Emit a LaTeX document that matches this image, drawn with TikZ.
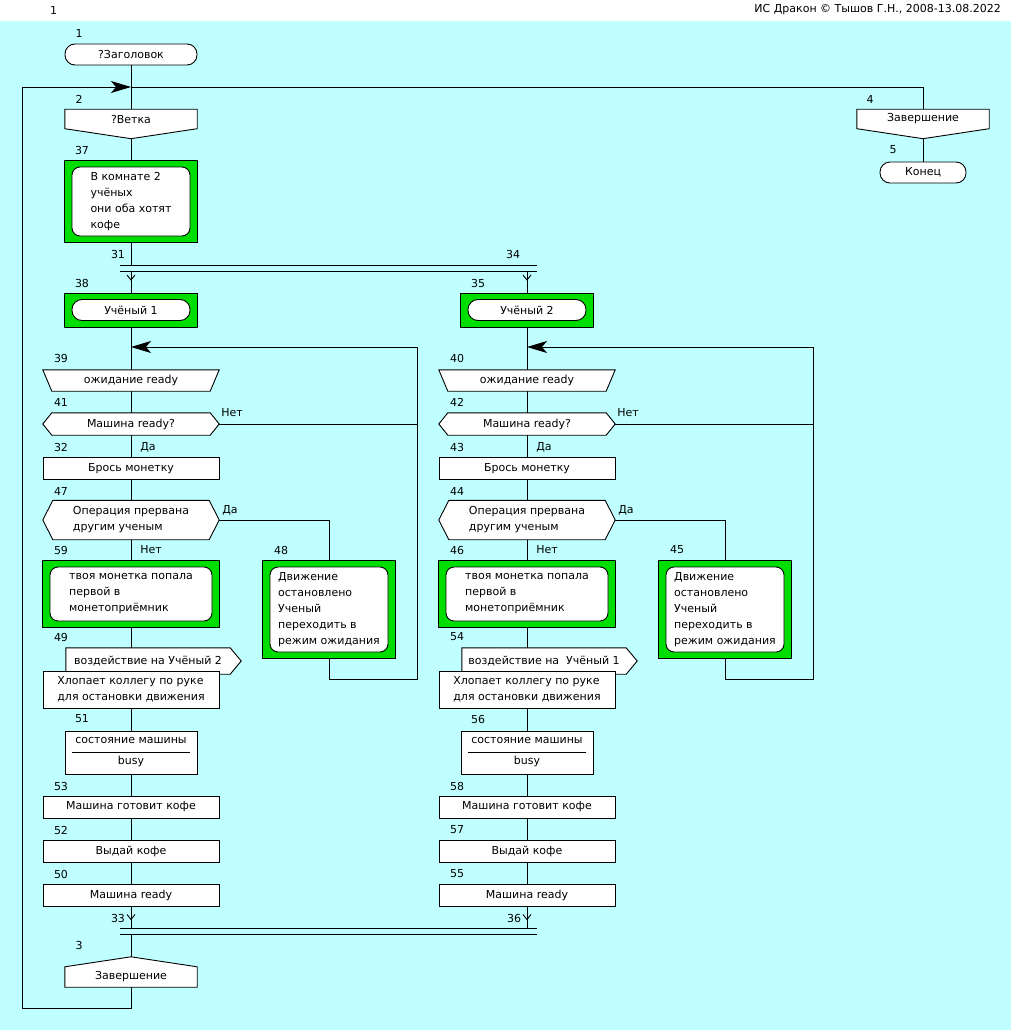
\documentclass[tikz,border=0pt]{standalone}
\usepackage{fontspec}
\setmainfont{DejaVu Sans}
\usepackage{tikz}
\usetikzlibrary{arrows.meta,positioning}
\definecolor{drakonbg}{RGB}{192,255,255}
\definecolor{drakongreen}{RGB}{0,221,0}
\newcommand{\drakonfont}{\fontsize{11pt}{16pt}\selectfont}
\pgfdeclarelayer{bg}
\pgfdeclarelayer{lines}
\pgfdeclarelayer{icons}
\pgfsetlayers{bg,lines,icons,main}
\tikzset{
    num/.style={inner sep=0pt},
    flow/.style={draw=black, line width=0.9pt},
    loopback/.style={flow, -{Stealth[length=20pt, width=12pt, inset=5pt]}},
    action/.style={
                draw=black,
                fill=white,
                line width=0.9pt,
                minimum width=176pt,
                minimum height=22pt,
                inner sep=0pt,
                align=center
            },
    term/.style={
                action,
                rounded corners=10pt,
                minimum width=132pt,
                minimum height=21pt
            },
    textbox/.style={
                action,
                rounded corners=8pt,
                align=left
            },
    shapetext/.style={
                inner sep=0pt,
                align=center
            },
    outline/.style={draw=black, fill=white, line width=0.9pt},
    greenbox/.style={draw=black, fill=drakongreen, line width=0.9pt},
}
\begin{document}
\begin{tikzpicture}[x=1pt, y=-1pt, every node/.append style={font=\drakonfont}]
  \useasboundingbox (0,0) rectangle (1011,1030);
  % Background
  \begin{pgfonlayer}{bg}
    \fill[white] (0,0) rectangle (1011,21);
    \fill[drakonbg] (0,21) rectangle (1011,1030);
  \end{pgfonlayer}
  \node[num, anchor=west] (page) at (50,10) {1};
  \node[num, anchor=east] (title) at (1001,10) {ИС Дракон © Тышов Г.Н., 2008-13.08.2022};

  % Title and branch
  \node[term] (t1) at (131,54.5) {?Заголовок};
  \node[shapetext, minimum width=132pt, minimum height=19pt] (b2) at (131,119) {?Ветка};
  \node[textbox, minimum width=118pt, minimum height=69pt] (g37) at (131,201.5) {В комнате 2\\учёных\\они оба хотят\\кофе};
  \node[num] (id1) at (79,33) {1};
  \node[num] (id2) at (79,99) {2};
  \node[num] (id37) at (82,150) {37};

  % Fork
  \coordinate (fork1w) at (120,265);
  \coordinate (fork1e) at (537,265);
  \coordinate (fork2w) at (120,271);
  \coordinate (fork2e) at (537,271);
  \node[num] (id31) at (118,254) {31};
  \node[num] (id34) at (513,254) {34};

  % Column: Учёный 1
  \node[term, minimum width=118pt] (s38) at (131,310) {Учёный 1};
  \node[shapetext, minimum width=176pt, minimum height=21pt] (i39) at (131,380.5) {ожидание ready};
  \node[shapetext, minimum width=158pt, minimum height=22pt] (c41) at (131,424) {Машина ready?};
  \node[action] (a32) at (131,468.5) {Брось монетку};
  \node[shapetext, minimum width=156pt, minimum height=39pt, align=left] (c47) at (131,520) {Операция прервана\\другим ученым};
  \node[textbox, minimum width=162pt, minimum height=54pt] (g59) at (131,594) {твоя монетка попала\\первой в\\монетоприёмник};
  \node[textbox, minimum width=118pt, minimum height=85pt] (g48) at (329,609.5) {Движение\\остановлено\\Ученый\\переходить в\\режим ожидания};
  \node[shapetext, minimum width=164pt, minimum height=26pt] (o49) at (148,661) {воздействие на Учёный 2};
  \node[action, minimum height=37pt, align=left] (a49) at (131,689.5) {Хлопает коллегу по руке\\для остановки движения};
  \node[action, minimum width=132pt, minimum height=43pt] (s51) at (131,752.5) {состояние машины\\[5pt]busy};
  \draw[flow] ([xshift=7pt]s51.west) -- ([xshift=-7pt]s51.east);
  \node[action] (a53) at (131,807) {Машина готовит кофе};
  \node[action] (a52) at (131,851) {Выдай кофе};
  \node[action] (a50) at (131,895) {Машина ready};
  \node[num] (id38) at (82,283) {38};
  \node[num] (id39) at (61,358) {39};
  \node[num] (id41) at (61,402) {41};
  \node[num] (no41) at (232,413) {Нет};
  \node[num] (id32) at (61,447) {32};
  \node[num] (yes41) at (148,447) {Да};
  \node[num] (id47) at (61,491) {47};
  \node[num] (yes47) at (230,510) {Да};
  \node[num] (id59) at (61,550) {59};
  \node[num] (no47) at (151,550) {Нет};
  \node[num] (id48) at (281,550) {48};
  \node[num] (id49) at (61,637) {49};
  \node[num] (id51) at (82,719) {51};
  \node[num] (id53) at (61,786) {53};
  \node[num] (id52) at (61,830) {52};
  \node[num] (id50) at (61,874) {50};
  \node[num] (id33) at (118,918) {33};

  % Column: Учёный 2
  \node[term, minimum width=118pt] (s35) at (527,310) {Учёный 2};
  \node[shapetext, minimum width=176pt, minimum height=21pt] (i40) at (527,380.5) {ожидание ready};
  \node[shapetext, minimum width=158pt, minimum height=22pt] (c42) at (527,424) {Машина ready?};
  \node[action] (a43) at (527,468.5) {Брось монетку};
  \node[shapetext, minimum width=156pt, minimum height=39pt, align=left] (c44) at (527,520) {Операция прервана\\другим ученым};
  \node[textbox, minimum width=162pt, minimum height=54pt] (g46) at (527,594) {твоя монетка попала\\первой в\\монетоприёмник};
  \node[textbox, minimum width=118pt, minimum height=85pt] (g45) at (725,609.5) {Движение\\остановлено\\Ученый\\переходить в\\режим ожидания};
  \node[shapetext, minimum width=164pt, minimum height=26pt] (o54) at (544,661) {воздействие на\ \ Учёный 1};
  \node[action, minimum height=37pt, align=left] (a54) at (527,689.5) {Хлопает коллегу по руке\\для остановки движения};
  \node[action, minimum width=132pt, minimum height=43pt] (s56) at (527,752.5) {состояние машины\\[5pt]busy};
  \draw[flow] ([xshift=7pt]s56.west) -- ([xshift=-7pt]s56.east);
  \node[action] (a58) at (527,807) {Машина готовит кофе};
  \node[action] (a57) at (527,851) {Выдай кофе};
  \node[action] (a55) at (527,895) {Машина ready};
  \node[num] (id35) at (478,283) {35};
  \node[num] (id40) at (457,358) {40};
  \node[num] (id42) at (457,402) {42};
  \node[num] (no42) at (628,413) {Нет};
  \node[num] (id43) at (457,447) {43};
  \node[num] (yes42) at (544,447) {Да};
  \node[num] (id44) at (457,491) {44};
  \node[num] (yes44) at (626,510) {Да};
  \node[num] (id46) at (457,550) {46};
  \node[num] (no44) at (547,550) {Нет};
  \node[num] (id45) at (677,550) {45};
  \node[num] (id54) at (457,637) {54};
  \node[num] (id56) at (478,719) {56};
  \node[num] (id58) at (457,786) {58};
  \node[num] (id57) at (457,830) {57};
  \node[num] (id55) at (457,874) {55};
  \node[num] (id36) at (514,918) {36};

  % Merge and end
  \coordinate (merge1w) at (120,928.5);
  \coordinate (merge1e) at (537,928.5);
  \coordinate (merge2w) at (120,934.5);
  \coordinate (merge2e) at (537,934.5);
  \node[shapetext, minimum width=132pt, minimum height=20pt] (e3) at (131,977) {Завершение};
  \node[num] (id3) at (79,945) {3};

  % Right branch
  \node[shapetext, minimum width=132pt, minimum height=19pt] (b4) at (923,119) {Завершение};
  \node[term, minimum width=86pt] (t5) at (923,172.5) {Конец};
  \node[num] (id4) at (870,99) {4};
  \node[num] (id5) at (893,150) {5};

  % Loop corners
  \coordinate (tj) at (131,87);
  \coordinate (bl) at (22,1008);
  \coordinate (j1) at (131,347);
  \coordinate (k1) at (417,679);
  \coordinate (j2) at (527,347);
  \coordinate (k2) at (813,679);

  % Icon outlines
  \begin{pgfonlayer}{icons}
    \filldraw[outline] (b2.north west) -- (b2.north east) -- (b2.south east) -- ([yshift=-10pt]b2.south) -- (b2.south west) -- cycle;
    \filldraw[outline] (b4.north west) -- (b4.north east) -- (b4.south east) -- ([yshift=-10pt]b4.south) -- (b4.south west) -- cycle;
    \filldraw[outline] (e3.south west) -- (e3.north west) -- ([yshift=10pt]e3.north) -- (e3.north east) -- (e3.south east) -- cycle;
    \filldraw[greenbox] ([shift={(-7,-6)}]g37.north west) rectangle ([shift={(7,6)}]g37.south east);
    \filldraw[greenbox] ([shift={(-7,-6)}]s38.north west) rectangle ([shift={(7,6)}]s38.south east);
    \filldraw[greenbox] ([shift={(-7,-6)}]g59.north west) rectangle ([shift={(7,6)}]g59.south east);
    \filldraw[greenbox] ([shift={(-7,-6)}]g48.north west) rectangle ([shift={(7,6)}]g48.south east);
    \filldraw[greenbox] ([shift={(-7,-6)}]s35.north west) rectangle ([shift={(7,6)}]s35.south east);
    \filldraw[greenbox] ([shift={(-7,-6)}]g46.north west) rectangle ([shift={(7,6)}]g46.south east);
    \filldraw[greenbox] ([shift={(-7,-6)}]g45.north west) rectangle ([shift={(7,6)}]g45.south east);
    \filldraw[outline] (i39.north west) -- (i39.north east) -- ([xshift=-9pt]i39.south east) -- ([xshift=9pt]i39.south west) -- cycle;
    \filldraw[outline] (i40.north west) -- (i40.north east) -- ([xshift=-9pt]i40.south east) -- ([xshift=9pt]i40.south west) -- cycle;
    \filldraw[outline] (c41.north west) -- (c41.north east) -- ([xshift=9pt]c41.east) -- (c41.south east) -- (c41.south west) -- ([xshift=-9pt]c41.west) -- cycle;
    \filldraw[outline] (c42.north west) -- (c42.north east) -- ([xshift=9pt]c42.east) -- (c42.south east) -- (c42.south west) -- ([xshift=-9pt]c42.west) -- cycle;
    \filldraw[outline] (c47.north west) -- (c47.north east) -- ([xshift=10pt]c47.east) -- (c47.south east) -- (c47.south west) -- ([xshift=-10pt]c47.west) -- cycle;
    \filldraw[outline] (c44.north west) -- (c44.north east) -- ([xshift=10pt]c44.east) -- (c44.south east) -- (c44.south west) -- ([xshift=-10pt]c44.west) -- cycle;
    \filldraw[outline] (o49.north west) -- (o49.north east) -- ([xshift=11pt]o49.east) -- (o49.south east) -- (o49.south west) -- cycle;
    \filldraw[outline] (o54.north west) -- (o54.north east) -- ([xshift=11pt]o54.east) -- (o54.south east) -- (o54.south west) -- cycle;
  \end{pgfonlayer}

  % Connectors
  \begin{pgfonlayer}{lines}
    \draw[flow] (t1) -- (b2) -- (g37) -- (g37 |- fork1w);
    \draw[flow] (fork1w) -- (fork1e);
    \draw[flow] (fork2w) -- (fork2e);
    \draw[flow] (s38 |- fork2w) -- (s38) -- (i39) -- (c41) -- (a32) -- (c47) -- (g59) -- (a49) -- (s51) -- (a53) -- (a52) -- (a50) -- (a50 |- merge1w);
    \draw[flow] (s35 |- fork2w) -- (s35) -- (i40) -- (c42) -- (a43) -- (c44) -- (g46) -- (a54) -- (s56) -- (a58) -- (a57) -- (a55) -- (a55 |- merge1w);
    \draw[flow] (s38 |- fork2w) ++(-4,4) -- ++(4,5) -- ++(4,-5);
    \draw[flow] (s35 |- fork2w) ++(-4,4) -- ++(4,5) -- ++(4,-5);
    \draw[flow] (a50 |- merge1w) ++(-4,-14) -- ++(4,5) -- ++(4,-5);
    \draw[flow] (a55 |- merge1w) ++(-4,-14) -- ++(4,5) -- ++(4,-5);
    \draw[flow] (c41) -- (c41 -| k1);
    \draw[flow] (c47) -| (g48);
    \draw[loopback] (g48) |- (k1) |- (j1);
    \draw[flow] (c42) -- (c42 -| k2);
    \draw[flow] (c44) -| (g45);
    \draw[loopback] (g45) |- (k2) |- (j2);
    \draw[flow] (merge1w) -- (merge1e);
    \draw[flow] (merge2w) -- (merge2e);
    \draw[flow] (e3 |- merge2w) -- (e3);
    \draw[loopback] (e3) |- (bl) |- (tj);
    \draw[flow] (tj) -| (b4);
    \draw[flow] (b4) -- (t5);
  \end{pgfonlayer}
\end{tikzpicture}
\end{document}
